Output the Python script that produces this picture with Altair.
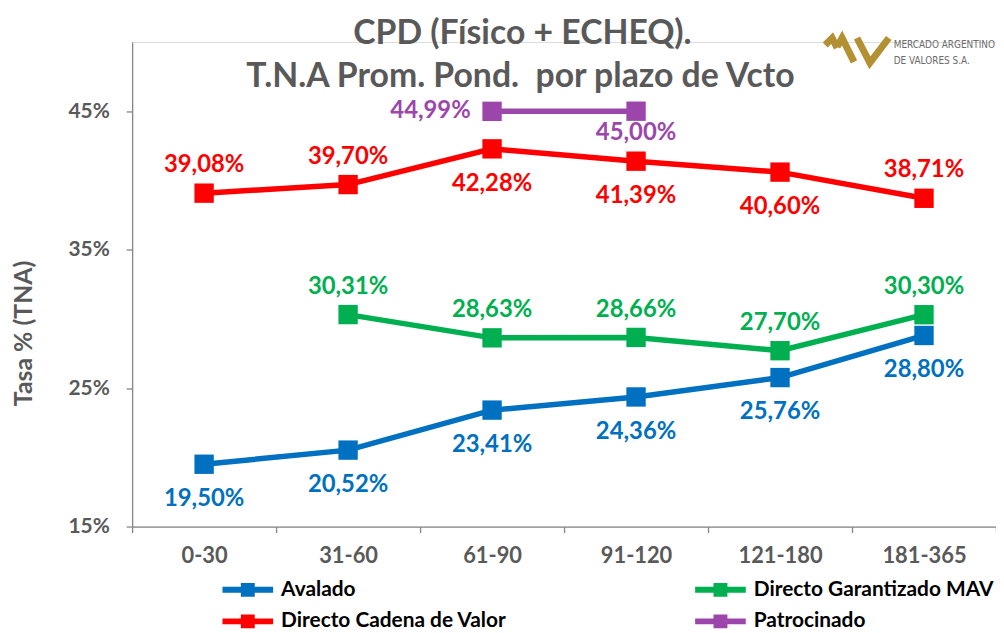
import altair as alt
import pandas as pd

# ---------------- data ----------------
categories = ["0-30", "31-60", "61-90", "91-120", "121-180", "181-365"]
series_names = ["Avalado", "Directo Cadena de Valor", "Directo Garantizado MAV", "Patrocinado"]
avalado = [19.50, 20.52, 23.41, 24.36, 25.76, 28.80]
garantizado = [None, 30.31, 28.63, 28.66, 27.70, 30.30]
cadena = [39.08, 39.70, 42.28, 41.39, 40.60, 38.71]
patrocinado = [None, None, 44.99, 45.00, None, None]
y_ticks = [15, 25, 35, 45]
series_colors = ["#0070C0", "#FF0000", "#00B050", "#9C46AC"]

title_line1 = "CPD (Físico + ECHEQ)."
title_line2 = "T.N.A Prom. Pond.\u00a0 por plazo de Vcto"
logo_line1 = "MERCADO ARGENTINO"
logo_line2 = "DE VALORES S.A."

# label placement (style, kept apart from the values)
label_place = {
    "Avalado": ["below"] * 6,
    "Directo Garantizado MAV": ["above"] * 6,
    "Directo Cadena de Valor": ["above", "above", "below", "below", "below", "above"],
    "Patrocinado": [None, None, "left", "near", None, None],
}

values_by_series = {
    "Avalado": avalado,
    "Directo Garantizado MAV": garantizado,
    "Directo Cadena de Valor": cadena,
    "Patrocinado": patrocinado,
}
color_of = dict(zip(series_names, series_colors))

rows = []
for s in series_names:
    for i, c in enumerate(categories):
        v = values_by_series[s][i]
        if v is None:
            continue
        rows.append({
            "series": s,
            "cat": c,
            "value": v,
            "label": f"{v:.2f}%".replace(".", ","),
            "place": label_place[s][i],
            "clr": color_of[s],
        })
df = pd.DataFrame(rows)

FONT = "Lato"
GRAY = "#595959"
AXIS_GRAY = "#868686"

x_enc = alt.X(
    "cat:N",
    sort=categories,
    bandPosition=0.5,
    scale=alt.Scale(type="band", domain=categories, paddingInner=0, paddingOuter=0),
    axis=alt.Axis(
        title=None, tickBand="extent", labelAngle=0, labelFont=FONT, labelFontWeight="bold",
        labelFontSize=22, labelColor=GRAY, domainColor=AXIS_GRAY, tickColor=AXIS_GRAY,
        tickSize=6, labelPadding=13, domainWidth=1.3, tickWidth=1.3, grid=False,
    ),
)
y_enc = alt.Y(
    "value:Q",
    scale=alt.Scale(domain=[15, 50], nice=False, zero=False),
    axis=alt.Axis(
        values=y_ticks, labelExpr="datum.value + '%'", title="Tasa % (TNA)",
        titleX=-96, titleY=293, titleAngle=270, titleBaseline="bottom", titleAlign="center",
        titleFont=FONT, titleFontSize=25, titleFontWeight="bold", titleColor=GRAY,
        labelFont=FONT, labelFontWeight="bold", labelFontSize=21, labelColor=GRAY,
        labelPadding=17, tickSize=6, domainColor=AXIS_GRAY, tickColor=AXIS_GRAY,
        domainWidth=1.3, tickWidth=1.3, grid=False,
    ),
)
legend_order = ["Avalado", "Directo Garantizado MAV", "Directo Cadena de Valor", "Patrocinado"]
color_scale = alt.Scale(domain=series_names, range=series_colors)

legend_symbol = ("M-25.5,-3 L25.5,-3 L25.5,3 L-25.5,3 Z "
                 "M-7,-7 L7,-7 L7,7 L-7,7 Z")
legend = alt.Legend(
    title=None, orient="none", legendX=106, legendY=541, columns=2, direction="horizontal",
    values=legend_order,
    columnPadding=189, rowPadding=10, symbolType=legend_symbol, symbolSize=4,
    symbolStrokeWidth=0, labelFont=FONT, labelFontSize=21, labelFontWeight="bold",
    labelColor="black", labelLimit=500, labelOffset=23,
)

base = alt.Chart(df)

lines = base.mark_line(strokeWidth=5.5).encode(
    x=x_enc, y=y_enc,
    stroke=alt.Stroke("clr:N", scale=None),
    detail="series:N",
)
points = base.mark_point(shape="square", filled=True, size=380, opacity=1).encode(
    x=x_enc, y=y_enc,
    color=alt.Color("series:N", scale=color_scale, legend=legend),
)

def label_layer(place, dx=0, dy=0):
    return base.transform_filter(alt.datum.place == place).mark_text(
        font=FONT, fontWeight="bold", fontSize=24, dx=dx, dy=dy, baseline="middle", align="center"
    ).encode(
        x=x_enc, y=y_enc, text="label:N",
        fill=alt.Fill("clr:N", scale=None),
    )

labels_above = label_layer("above", dy=-28)
labels_below = label_layer("below", dy=35)
labels_near = label_layer("near", dy=22)
labels_left = label_layer("left", dx=-62)

title1 = alt.Chart(pd.DataFrame({"t": [title_line1]})).mark_text(
    font=FONT, fontWeight="bold", fontSize=34, color=GRAY, align="center", baseline="alphabetic"
).encode(x=alt.value(393), y=alt.value(2), text="t:N")
title2 = alt.Chart(pd.DataFrame({"t": [title_line2]})).mark_text(
    font=FONT, fontWeight="bold", fontSize=34, color=GRAY, align="center", baseline="alphabetic"
).encode(x=alt.value(391), y=alt.value(45), text="t:N")

logo_path = ("M-31,-5 L-24,-12 L-19,-2 "
             "M-19,-3 L-14,-12 L-2,12 "
             "M1,-12 L14,13 L33,-12")
logo = alt.Chart(pd.DataFrame({"k": [1]})).mark_point(
    shape=logo_path, filled=False, size=4, stroke="#B39031", strokeWidth=7, opacity=1,
    strokeJoin="miter",
).encode(x=alt.value(729), y=alt.value(8))
logo_font = "DejaVu Sans Condensed, Roboto, sans-serif"
logo_t1 = alt.Chart(pd.DataFrame({"t": [logo_line1]})).mark_text(
    font=logo_font, fontSize=10, color="#6b6b6b", align="left", baseline="alphabetic"
).encode(x=alt.value(767), y=alt.value(6), text="t:N")
logo_t2 = alt.Chart(pd.DataFrame({"t": [logo_line2]})).mark_text(
    font=logo_font, fontSize=10, color="#6b6b6b", align="left", baseline="alphabetic"
).encode(x=alt.value(767), y=alt.value(22), text="t:N")

chart = alt.layer(
    lines, points, labels_above, labels_below, labels_near, labels_left,
    title1, title2, logo, logo_t1, logo_t2,
).properties(
    width=870, height=488,
    autosize=alt.AutoSizeParams(type="none"),
    padding={"left": 125, "top": 32, "right": 0, "bottom": 104},
).configure_view(stroke=None).configure(background="white")

chart.save("out.html", embed_options={"renderer": "svg", "actions": False})
